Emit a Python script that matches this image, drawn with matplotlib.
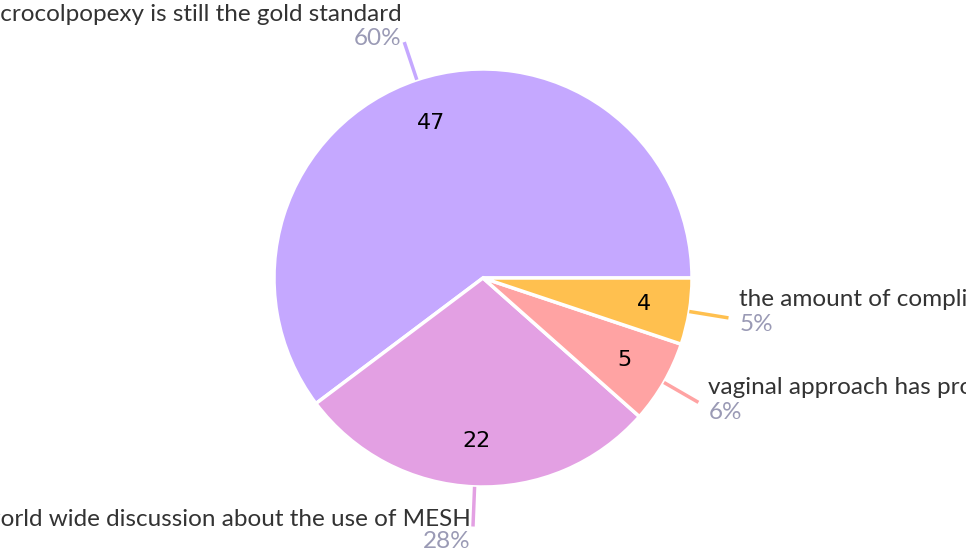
import matplotlib.pyplot as plt
import numpy as np

labels = [
    "Sacrocolpopexy is still the gold standard",
    "There is a world wide discussion about the use of MESH",
    "vaginal approach has proven to be safe and effective",
    "the amount of complications is too high",
]
counts = [47, 22, 5, 4]
colors = ["#C5A8FF", "#E3A0E3", "#FFA3A3", "#FFC04F"]

# label placement: (ha, dx px, label dy px, pct dy px) relative to leader end
label_pos = [
    ("right", -3, 28, 4),
    ("right", -2, 7, -15),
    ("left", 10, 15, -10),
    ("left", 11, 18, -7),
]

plt.rcParams['font.family'] = ['Lato', 'DejaVu Sans']

fig = plt.figure(figsize=(9.66, 5.56), dpi=100)
ax = fig.add_axes([0, 0, 1, 1])

cx, cy, r = 483, 278, 209
wedges, _, autotexts = ax.pie(
    counts, colors=colors, startangle=0, counterclock=True,
    center=(cx, cy), radius=r, autopct=lambda p: f"{p * sum(counts) / 100:.0f}",
    pctdistance=0.78, frame=True,
    wedgeprops=dict(edgecolor='white', linewidth=2.5),
    textprops=dict(family='DejaVu Sans', fontsize=16, color='black'),
)
ax.set_xlim(0, 966)
ax.set_ylim(0, 556)
ax.set_aspect('equal')
ax.axis('off')

total = sum(counts)
for w, lab, n, col, (ha, dx, ldy, pdy) in zip(wedges, labels, counts, colors, label_pos):
    ang = np.deg2rad((w.theta1 + w.theta2) / 2)
    x0, y0 = cx + r * np.cos(ang), cy + r * np.sin(ang)
    x1, y1 = cx + r * 1.19 * np.cos(ang), cy + r * 1.19 * np.sin(ang)
    ax.plot([x0, x1], [y0, y1], color=col, lw=2.5, solid_capstyle='butt')
    ax.annotate(lab, (x1, y1), xytext=(dx, ldy), textcoords='offset pixels',
                ha=ha, va='center', fontsize=17.5, color='#333333')
    ax.annotate(f"{n / total * 100:.0f}%", (x1, y1), xytext=(dx, pdy),
                textcoords='offset pixels', ha=ha, va='center',
                fontsize=17.5, color='#9a9ab5')

fig.savefig("out.png", dpi=100)
